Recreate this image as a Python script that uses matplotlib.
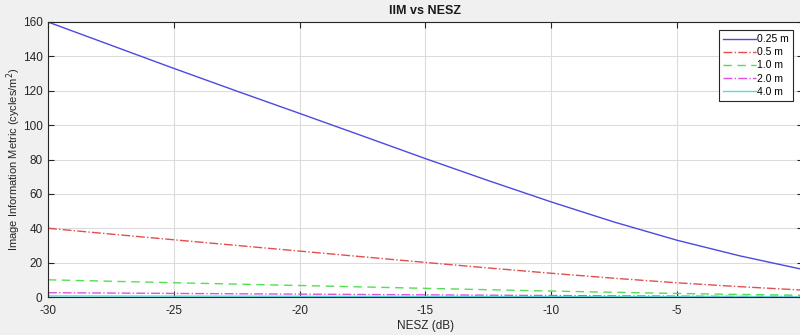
import matplotlib
matplotlib.use('Agg')
import matplotlib.pyplot as plt

plt.rcParams['font.family'] = ['Liberation Sans', 'DejaVu Sans']
plt.rcParams['axes.unicode_minus'] = False

# NESZ in dB and IIM for each resolution
nesz = [-30, -27.5, -25, -22.5, -20, -17.5, -15, -12.5, -10, -7.5, -5, -2.5, 0]
iim_025 = [160, 146.5, 133, 119.8, 106.8, 93.7, 80.5, 67.7, 55.3, 43.6, 33.0, 23.9, 16.0]
iim_05 = [40, 36.6, 33.3, 30.0, 26.7, 23.4, 20.1, 16.9, 13.8, 10.9, 8.25, 6.0, 4.0]
iim_10 = [10, 9.16, 8.31, 7.49, 6.68, 5.86, 5.03, 4.23, 3.46, 2.73, 2.06, 1.49, 1.0]
iim_20 = [2.5, 2.29, 2.08, 1.87, 1.67, 1.46, 1.26, 1.06, 0.86, 0.68, 0.52, 0.37, 0.25]
iim_40 = [0.63, 0.57, 0.52, 0.47, 0.42, 0.37, 0.31, 0.26, 0.22, 0.17, 0.13, 0.09, 0.06]
labels = ['0.25 m', '0.5 m', '1.0 m', '2.0 m', '4.0 m']

fig = plt.figure(figsize=(8, 3.35), dpi=100, facecolor='#f0f0f0')
ax = fig.add_axes([48 / 800, 38 / 335, 755 / 800, 275 / 335])

ax.plot(nesz, iim_025, color='#4a4ae0', lw=1.0, ls='-', label=labels[0])
ax.plot(nesz, iim_05, color='#e05050', lw=1.0, ls='-.', label=labels[1])
ax.plot(nesz, iim_10, color='#50e050', lw=1.0, ls=(0, (6, 4)), label=labels[2])
ax.plot(nesz, iim_20, color='#e050e0', lw=1.0, ls='-.', label=labels[3])
ax.plot(nesz, iim_40, color='#50e0e0', lw=1.0, ls='-', label=labels[4])

ax.set_xlim(-30, 0)
ax.set_ylim(0, 160)
ax.set_xticks(range(-30, 1, 5))
ax.set_yticks(range(0, 161, 20))
ax.grid(True, color='#dcdcdc', lw=0.8)
ax.tick_params(direction='in', top=True, right=True, labelsize=8.5,
               colors='#262626', length=4, width=0.8)
ax.tick_params(axis='y', pad=4)
ax.tick_params(axis='x', pad=6)
for s in ax.spines.values():
    s.set_color('#262626')
    s.set_linewidth(0.8)

ax.set_title('IIM vs NESZ', fontsize=9, fontweight='bold', color='#1a1a1a', pad=6)
ax.set_xlabel('NESZ (dB)', fontsize=8.5, color='#262626', labelpad=2)
ax.set_ylabel('Image Information Metric (cycles/m$^2$)', fontsize=8,
              color='#262626')
ax.yaxis.set_label_coords(-25 / 755, 0.5)

leg = ax.legend(loc='upper right', bbox_to_anchor=(793 / 800, 1 - 30 / 335),
                bbox_transform=fig.transFigure, borderaxespad=0, fontsize=7.5,
                handlelength=3.2, handletextpad=0.1, borderpad=0.4,
                labelspacing=0.3, fancybox=False, framealpha=1,
                edgecolor='#262626')
leg.get_frame().set_linewidth(0.8)

fig.savefig('out.png', dpi=100, facecolor=fig.get_facecolor())
